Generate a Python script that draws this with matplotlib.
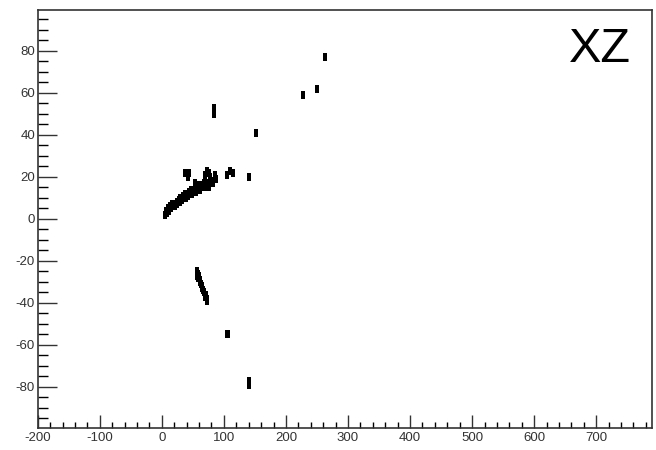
import matplotlib
matplotlib.use("Agg")
import matplotlib.pyplot as plt
from matplotlib.ticker import MultipleLocator

plt.rcParams['font.family'] = ['Liberation Sans', 'DejaVu Sans']
plt.rcParams['axes.unicode_minus'] = False

# hits in the XZ view
x_hits = [84, 84, 152, 227, 250, 263, 140, 105, 107, 140, 140,
          # negative branch
          56, 57, 58, 59, 60, 61, 62, 63, 64, 65, 67, 68, 70, 71, 72, 73,
          # main band
          5, 6, 8, 10, 11, 13, 15, 17, 18, 20, 22, 24, 25, 27, 29, 30, 32, 34,
          35, 37, 39, 40, 42, 44, 45, 47, 49, 50, 52, 54, 55, 57, 59, 60, 62,
          64, 66, 68, 70, 72, 74, 76, 78, 80, 82, 53, 69, 77, 77,
          # upper row
          38, 40, 42, 44, 70, 72, 76, 86, 87, 105, 110, 115]
z_hits = [50, 53, 41, 59, 62, 77, 20, -55, -55, -77, -79,
          -25, -27, -26, -28, -27, -29, -30, -31, -32, -33, -34, -35, -37, -36, -38, -39,
          2, 4, 3, 5, 4, 6, 5, 7, 6, 7, 6, 8, 7, 9, 8, 10, 9, 11,
          10, 12, 10, 12, 11, 13, 12, 14, 12, 14, 13, 15, 13, 15, 14, 16, 14,
          16, 15, 17, 15, 16, 17, 15, 17, 18, 17, 17, 21, 17, 20,
          22, 22, 20, 22, 21, 23, 22, 21, 19, 21, 23, 22]

rect = [(-1.3, -2), (1.3, -2), (1.3, 2), (-1.3, 2), (-1.3, -2)]

fig = plt.figure(figsize=(6.56, 4.5), dpi=100)
ax = fig.add_axes([0.0575, 0.049, 0.9365, 0.929])

ax.scatter(x_hits, z_hits, marker=rect, s=26, color='black', linewidths=0)

ax.set_xlim(-200, 790)
ax.set_ylim(-99.5, 99.5)
ax.xaxis.set_major_locator(MultipleLocator(100))
ax.xaxis.set_minor_locator(MultipleLocator(20))
ax.set_yticks([-80, -60, -40, -20, 0, 20, 40, 60, 80])
ax.yaxis.set_minor_locator(MultipleLocator(5))

ax.tick_params(axis='both', direction='in', labelsize=9.5, colors='#333333',
               top=False, right=False, width=1)
ax.tick_params(axis='y', which='major', length=13.5, pad=2)
ax.tick_params(axis='y', which='minor', length=7, direction='in', width=1)
ax.tick_params(axis='x', which='major', length=9.5, pad=3)
ax.tick_params(axis='x', which='minor', length=4.5, direction='in', width=1)

for sp in ax.spines.values():
    sp.set_linewidth(1.2)
    sp.set_color('#333333')

fig.text(0.915, 0.889, 'XZ', fontsize=35, ha='center', va='center')

fig.savefig('out.png', dpi=100)
